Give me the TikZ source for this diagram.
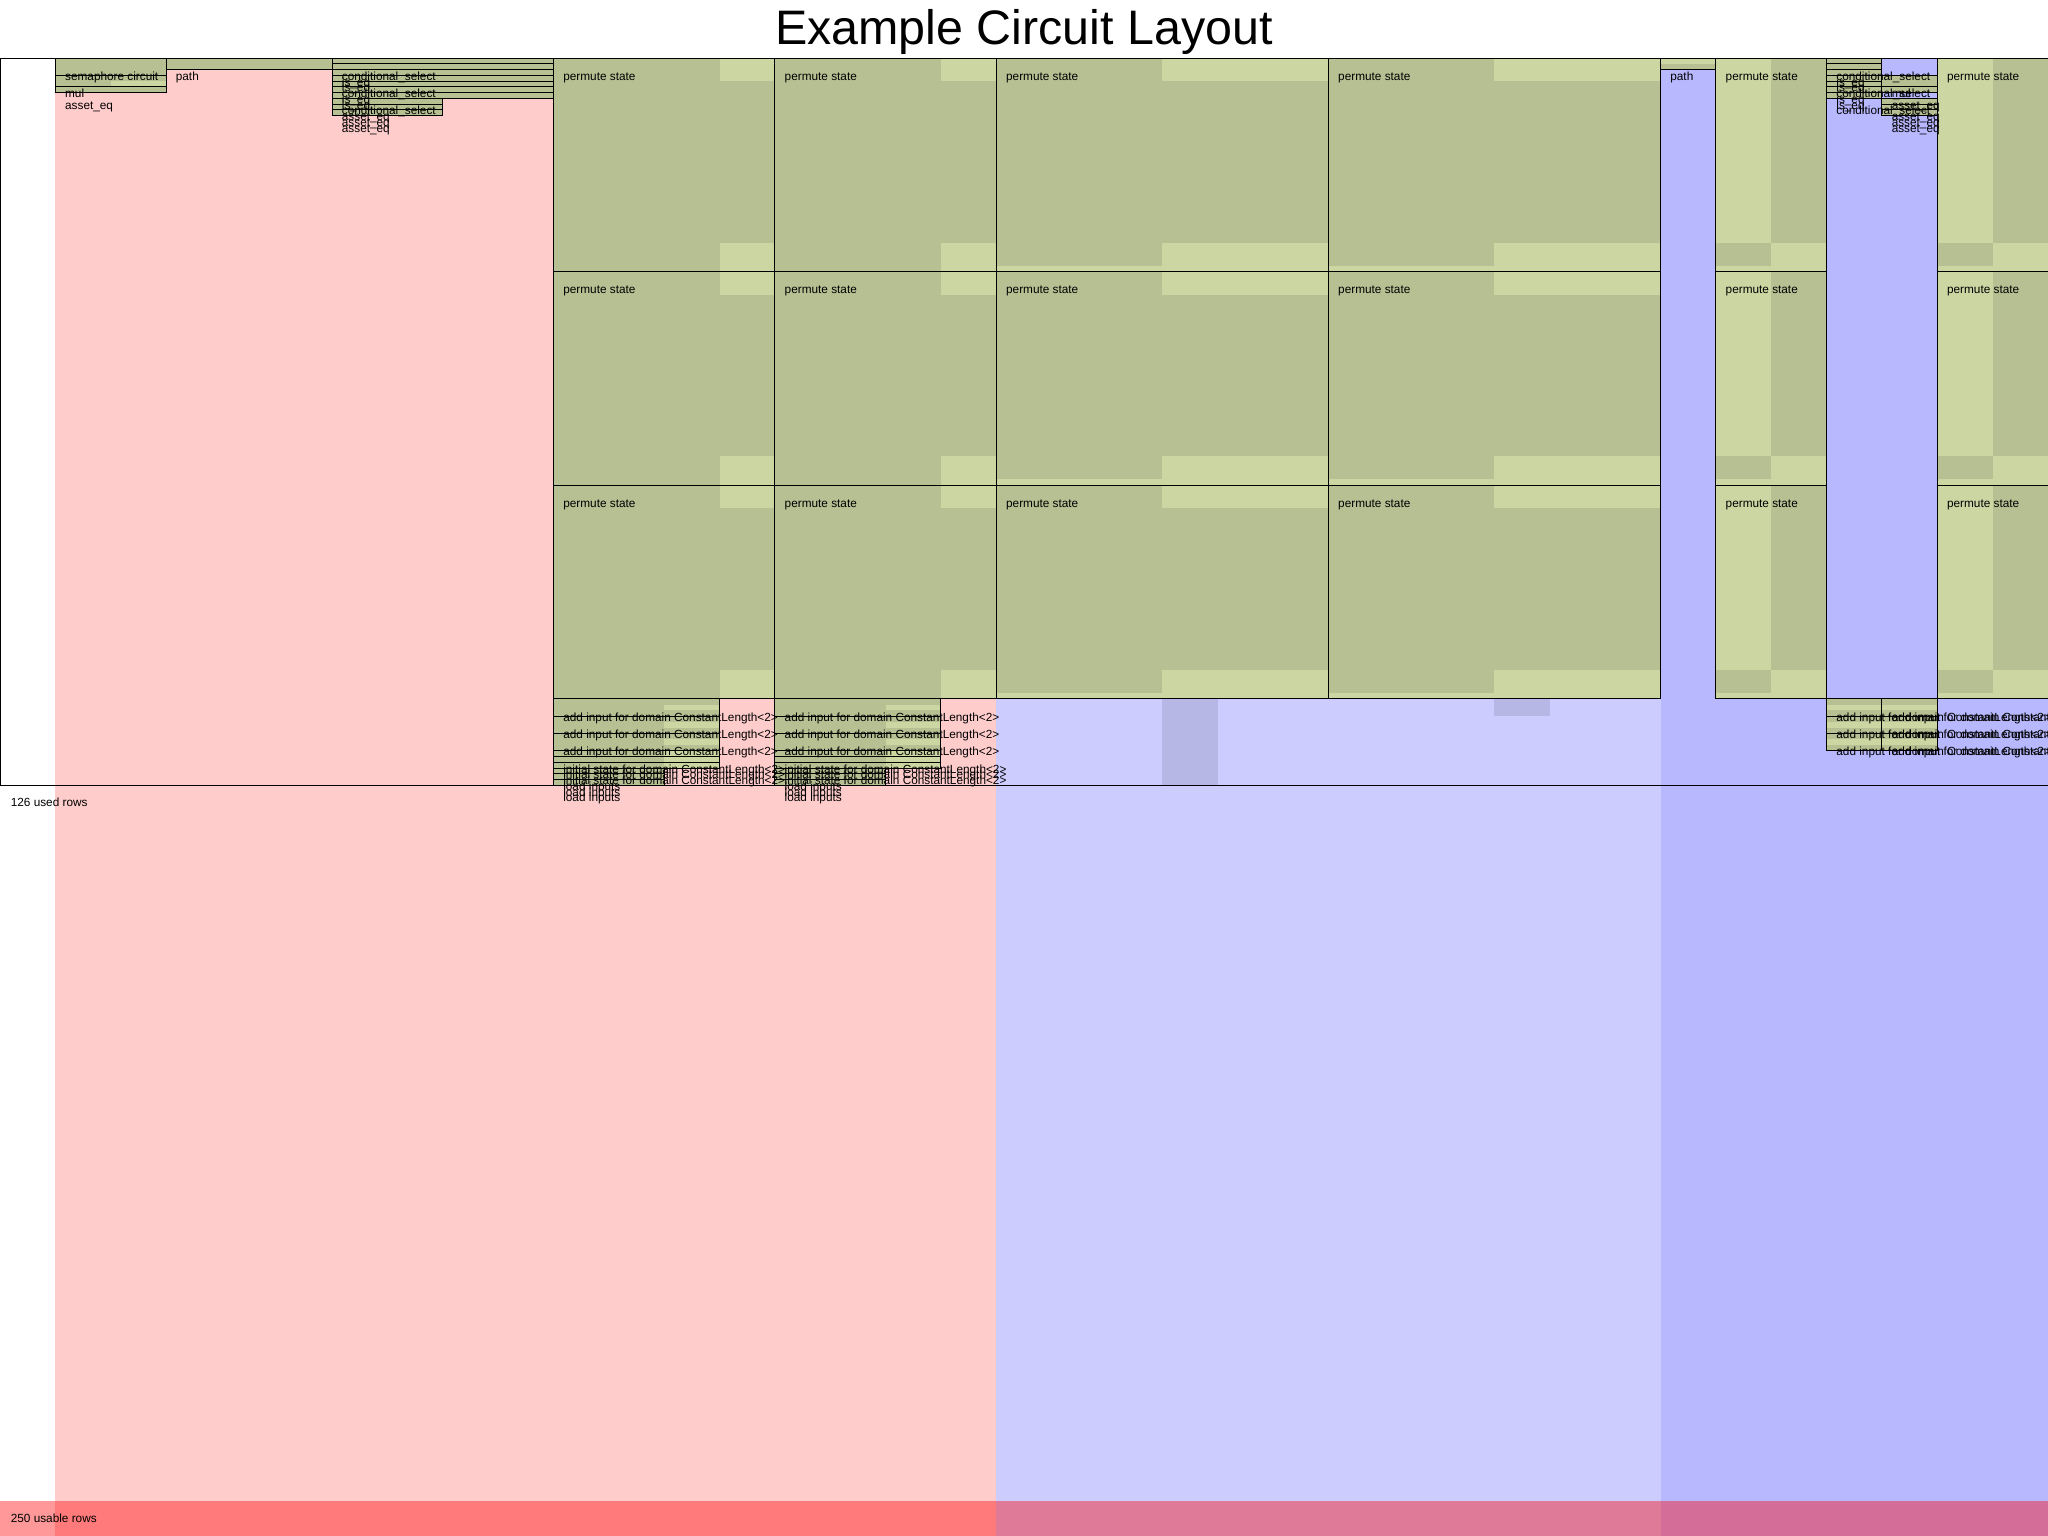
\documentclass[tikz,border=0pt]{standalone}
\usepackage{fontspec}
\setmainfont{Liberation Sans}
\definecolor{advicebg}{RGB}{255,204,204}
\definecolor{fixedbg}{RGB}{204,204,255}
\definecolor{selectorbg}{RGB}{184,184,255}
\definecolor{regionbg}{RGB}{204,214,163}
\newcommand{\labelfont}{\fontsize{5.9}{7}\selectfont}
\newcommand{\titlefont}{\fontsize{24.2}{29}\selectfont}

\begin{document}
\begin{tikzpicture}[
  x=27.6757pt, y=-2.8867pt,
  regionfill/.style={fill=regionbg},
  usedcell/.style={fill=black, fill opacity=0.1},
  regionedge/.style={draw=black, line width=0.5pt},
  rlabel/.style={anchor=mid west, inner sep=0pt, xshift=4.7pt, yshift=-8.5pt, font=\labelfont},
  rowmark/.style={anchor=mid west, inner sep=0pt, xshift=5.2pt, yshift=-8pt, font=\labelfont},
  titletext/.style={anchor=base, inner sep=0pt, font=\titlefont},
  unusable/.style={fill=red, fill opacity=0.4}
]
\useasboundingbox (0,-10.047) rectangle (37,256);
\fill[white] (0,-10.047) rectangle (37,256);

% columns
\fill[advicebg] (1,0) rectangle (18,256);
\fill[fixedbg] (18,0) rectangle (30,256);
\fill[selectorbg] (30,0) rectangle (37,256);

\node[titletext] (title) at (18.5,-2.356) {Example Circuit Layout};

% permute state
\foreach \r in {0,37,74} {
  \foreach \c in {10,14} {
    \fill[regionfill] (\c,\r) rectangle ++(4,37);
    \fill[usedcell] (\c,\r) rectangle ++(3,37);
    \fill[usedcell] (\c+3,\r+4) rectangle ++(1,28);
    \draw[regionedge] (\c,\r) rectangle ++(4,37);
    \node[rlabel] (ps-\c-\r) at (\c,\r) {permute state};
  }
  \foreach \c in {18,24} {
    \fill[regionfill] (\c,\r) rectangle ++(6,37);
    \fill[usedcell] (\c,\r) rectangle ++(3,36);
    \fill[usedcell] (\c+3,\r+4) rectangle ++(3,28);
    \draw[regionedge] (\c,\r) rectangle ++(6,37);
    \node[rlabel] (ps-\c-\r) at (\c,\r) {permute state};
  }
  \foreach \c in {31,35} {
    \fill[regionfill] (\c,\r) rectangle ++(2,37);
    \fill[usedcell] (\c,\r+32) rectangle ++(1,4);
    \fill[usedcell] (\c+1,\r) rectangle ++(1,32);
    \draw[regionedge] (\c,\r) rectangle ++(2,37);
    \node[rlabel] (ps-\c-\r) at (\c,\r) {permute state};
  }
}

% small regions
\foreach \xa/\ya/\xb/\yb in {1/0/3/3, 1/3/3/5, 1/5/3/6, 3/0/6/2, 6/0/10/7, 6/7/8/10,
    30/0/31/2, 33/0/34/7, 34/3/35/6, 34/7/35/10, 33/111/35/120,
    10/111/13/123, 10/123/12/126, 14/111/17/123, 14/123/16/126}
  \fill[regionfill] (\xa,\ya) rectangle (\xb,\yb);

\foreach \xa/\ya/\xb/\yb in {1/0/3/3, 1/3/2/5, 2/3/3/4, 1/5/3/6, 3/0/6/2, 6/0/10/7, 6/7/8/10,
    30/1/31/2, 33/0/34/7, 34/3/35/6, 34/7/35/10,
    33/111/35/112, 33/113/35/115, 33/116/35/118, 33/119/35/120,
    21/111/22/126, 27/111/28/114}
  \fill[usedcell] (\xa,\ya) rectangle (\xb,\yb);
\foreach \c in {10,14} {
  \fill[usedcell] (\c,111) rectangle (\c+2,126);
  \foreach \ya/\yb in {111/112, 113/115, 116/118, 119/120}
    \fill[usedcell] (\c+2,\ya) rectangle (\c+3,\yb);
}

\foreach \xa/\ya/\xb/\yb/\nm/\txt in {
    1/0/3/3/sc/semaphore circuit, 1/3/3/5/mula/mul, 1/5/3/6/aeqa/asset\_eq,
    3/0/6/2/patha/path,
    6/0/10/1/csa/conditional\_select, 6/1/10/2/ieqa/is\_eq, 6/2/10/3/ieqb/is\_eq,
    6/3/10/4/csb/conditional\_select, 6/4/10/5/ieqc/is\_eq, 6/5/10/6/ieqd/is\_eq,
    6/6/10/7/csc/conditional\_select,
    6/7/8/8/aeqb/asset\_eq, 6/8/8/9/aeqc/asset\_eq, 6/9/8/10/aeqd/asset\_eq,
    30/0/31/2/pathb/path,
    33/0/34/1/csd/conditional\_select, 33/1/34/2/ieqe/is\_eq, 33/2/34/3/ieqf/is\_eq,
    33/3/34/4/cse/conditional\_select, 33/4/34/5/ieqg/is\_eq, 33/5/34/6/ieqh/is\_eq,
    33/6/34/7/csf/conditional\_select,
    34/3/35/5/mulb/mul, 34/5/35/6/aeqe/asset\_eq,
    34/7/35/8/aeqf/asset\_eq, 34/8/35/9/aeqg/asset\_eq, 34/9/35/10/aeqh/asset\_eq,
    33/111/34/114/aia/add input for domain ConstantLength<2>,
    33/114/34/117/aib/add input for domain ConstantLength<2>,
    33/117/34/120/aic/add input for domain ConstantLength<2>,
    34/111/35/114/aid/add input for domain ConstantLength<2>,
    34/114/35/117/aie/add input for domain ConstantLength<2>,
    34/117/35/120/aif/add input for domain ConstantLength<2>} {
  \draw[regionedge] (\xa,\ya) rectangle (\xb,\yb);
  \node[rlabel] (\nm) at (\xa,\ya) {\txt};
}

% sponge regions
\foreach \c in {10,14} {
  \foreach \r in {111,114,117} {
    \draw[regionedge] (\c,\r) rectangle (\c+3,\r+3);
    \node[rlabel] (ai-\c-\r) at (\c,\r) {add input for domain ConstantLength<2>};
  }
  \foreach \r in {120,121,122} {
    \draw[regionedge] (\c,\r) rectangle (\c+3,\r+1);
    \node[rlabel] (is-\c-\r) at (\c,\r) {initial state for domain ConstantLength<2>};
  }
  \foreach \r in {123,124,125} {
    \draw[regionedge] (\c,\r) rectangle (\c+2,\r+1);
    \node[rlabel] (li-\c-\r) at (\c,\r) {load inputs};
  }
}

% rows
\fill[unusable] (0,250) rectangle (37,256);
\draw[regionedge] (37.5,0) -- (0,0) -- (0,126) -- (37.5,126);
\node[rowmark] (usedrows) at (0,126) {126 used rows};
\node[rowmark] (usablerows) at (0,250) {250 usable rows};
\end{tikzpicture}
\end{document}
